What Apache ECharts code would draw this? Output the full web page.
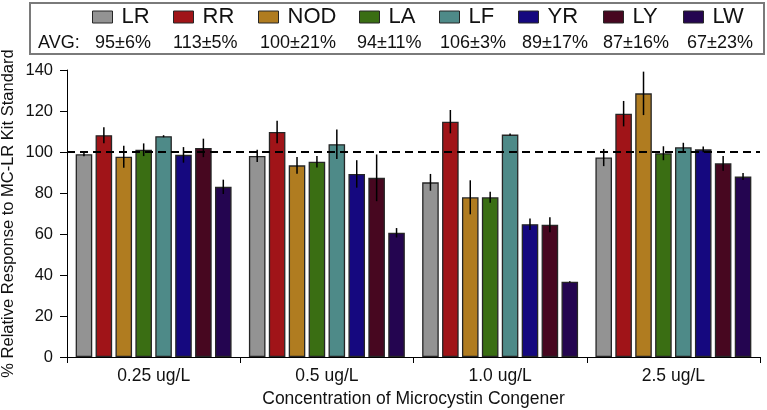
<!DOCTYPE html>
<html>
<head>
<meta charset="utf-8">
<script src="https://cdn.jsdelivr.net/npm/echarts@6/dist/echarts.min.js"></script>
<style>
html,body{margin:0;padding:0;background:#fff;}
#chart{width:767px;height:410px;}
</style>
</head>
<body>
<div id="chart"></div>
<script>
var categories = ['0.25 ug/L', '0.5 ug/L', '1.0 ug/L', '2.5 ug/L'];
var congeners = ['LR', 'RR', 'NOD', 'LA', 'LF', 'YR', 'LY', 'LW'];
var colors = ['#939393', '#a01418', '#b07c20', '#3a6e13', '#4e8a88', '#15087f', '#470720', '#240550'];
var avgLabels = ['95±6%', '113±5%', '100±21%', '94±11%', '106±3%', '89±17%', '87±16%', '67±23%'];
// values per congener across the 4 concentrations
var valLR  = [98.9, 98.1, 85.2, 97.3];
var valRR  = [108.2, 109.8, 114.8, 118.7];
var valNOD = [97.7, 93.5, 77.9, 128.6];
var valLA  = [101.1, 95.3, 77.9, 99.4];
var valLF  = [107.7, 103.8, 108.5, 102.3];
var valYR  = [98.6, 89.3, 64.8, 101.3];
var valLY  = [102.0, 87.4, 64.5, 94.5];
var valLW  = [83.0, 60.6, 36.7, 88.0];
// error (±) per congener
var errLR  = [1.0, 3.0, 4.1, 4.2];
var errRR  = [3.9, 5.5, 5.7, 6.2];
var errNOD = [5.4, 4.1, 8.3, 10.6];
var errLA  = [3.1, 2.8, 2.7, 3.4];
var errLF  = [0.5, 7.2, 0.5, 2.2];
var errYR  = [3.8, 6.7, 2.8, 1.4];
var errLY  = [4.5, 11.4, 3.7, 3.6];
var errLW  = [3.5, 2.3, 0.3, 1.7];
var yTicks = [0, 20, 40, 60, 80, 100, 120, 140];
var refLine = 100;

var values = [valLR, valRR, valNOD, valLA, valLF, valYR, valLY, valLW];
var errors = [errLR, errRR, errNOD, errLA, errLF, errYR, errLY, errLW];

var FONT = 'Liberation Sans, Arial, sans-serif';
var CAT_GAP = 0.10, BAR_GAP = 0.20, N = congeners.length;

var chart = echarts.init(document.getElementById('chart'), null, {renderer: 'canvas'});

var series = [];
congeners.forEach(function (name, i) {
  var s = {
    name: name,
    type: 'bar',
    data: values[i],
    barCategoryGap: (CAT_GAP * 100) + '%',
    barGap: (BAR_GAP * 100) + '%',
    itemStyle: {color: colors[i], borderColor: '#262626', borderWidth: 1.3},
    emphasis: {disabled: true},
    z: 2
  };
  if (i === 0) {
    s.markLine = {
      silent: true,
      symbol: 'none',
      label: {show: false},
      lineStyle: {color: '#000', type: [8, 5], width: 2},
      data: [{yAxis: refLine}],
      z: 5
    };
  }
  series.push(s);
});

var errData = [];
congeners.forEach(function (name, i) {
  values[i].forEach(function (v, c) {
    errData.push([c, v, errors[i][c], i]);
  });
});
series.push({
  type: 'custom',
  z: 4,
  silent: true,
  data: errData,
  encode: {x: 0, y: 1},
  renderItem: function (params, api) {
    var c = api.value(0), v = api.value(1), e = api.value(2), i = api.value(3);
    var band = api.size([1, 0])[0];
    var usable = band * (1 - CAT_GAP);
    var bw = usable / (N + (N - 1) * BAR_GAP);
    var pitch = bw * (1 + BAR_GAP);
    var center = api.coord([c, v]);
    var x = center[0] + (i - (N - 1) / 2) * pitch;
    var top = api.coord([c, v + e])[1];
    var bot = api.coord([c, v - e])[1];
    return {
      type: 'line',
      shape: {x1: x, y1: top, x2: x, y2: bot},
      style: {stroke: '#000', lineWidth: 1.5}
    };
  }
});

var sqLeft = [92, 173, 258, 359, 439, 518, 603, 683];
var legends = congeners.map(function (name, i) {
  return {
    data: [name],
    left: sqLeft[i],
    top: 6,
    padding: 0,
    itemWidth: 20,
    itemHeight: 12,
    selectedMode: false,
    icon: 'rect',
    itemStyle: {borderColor: '#262626', borderWidth: 1},
    textStyle: {fontFamily: FONT, fontSize: 22, color: '#111', padding: [0, 0, 0, 4]}
  };
});

var avgLeft = [95, 173, 260, 357, 440, 522, 603, 687];
var graphics = [{
  type: 'rect',
  shape: {x: 30, y: 3, width: 734, height: 51},
  style: {fill: 'none', stroke: '#7a7a7a', lineWidth: 2},
  silent: true
}, {
  type: 'text',
  left: 38, top: 34,
  style: {text: 'AVG:', font: '18px ' + FONT, fill: '#111'}
}];
avgLabels.forEach(function (t, i) {
  graphics.push({
    type: 'text',
    left: avgLeft[i], top: 34,
    style: {text: t, font: '18px ' + FONT, fill: '#111'}
  });
});

var option = {
  animation: false,
  backgroundColor: '#fff',
  textStyle: {fontFamily: FONT},
  legend: legends,
  graphic: graphics,
  grid: {left: 67, right: 7, top: 70, bottom: 53, containLabel: false, outerBoundsMode: 'none'},
  xAxis: {
    type: 'category',
    data: categories,
    boundaryGap: true,
    axisLine: {lineStyle: {color: '#000', width: 1}},
    axisTick: {show: true, length: 6, interval: 0, lineStyle: {color: '#000'}},
    axisLabel: {fontFamily: FONT, fontSize: 17.5, color: '#111', margin: 10, interval: 0},
    name: 'Concentration of Microcystin Congener',
    nameLocation: 'middle',
    nameGap: 30,
    nameTextStyle: {fontFamily: FONT, fontSize: 17.5, color: '#111'}
  },
  yAxis: {
    type: 'value',
    min: yTicks[0],
    max: yTicks[yTicks.length - 1],
    interval: yTicks[1] - yTicks[0],
    axisLine: {show: true, lineStyle: {color: '#000', width: 1}},
    axisTick: {show: true, length: 7, lineStyle: {color: '#000'}},
    axisLabel: {fontFamily: FONT, fontSize: 16.5, color: '#111', margin: 14},
    splitLine: {show: false},
    name: '% Relative Response to MC-LR Kit Standard',
    nameLocation: 'middle',
    nameMoveOverlap: false,
    nameGap: 50,
    nameTextStyle: {fontFamily: FONT, fontSize: 16.5, color: '#111'}
  },
  series: series
};
chart.setOption(option);
</script>
</body>
</html>
